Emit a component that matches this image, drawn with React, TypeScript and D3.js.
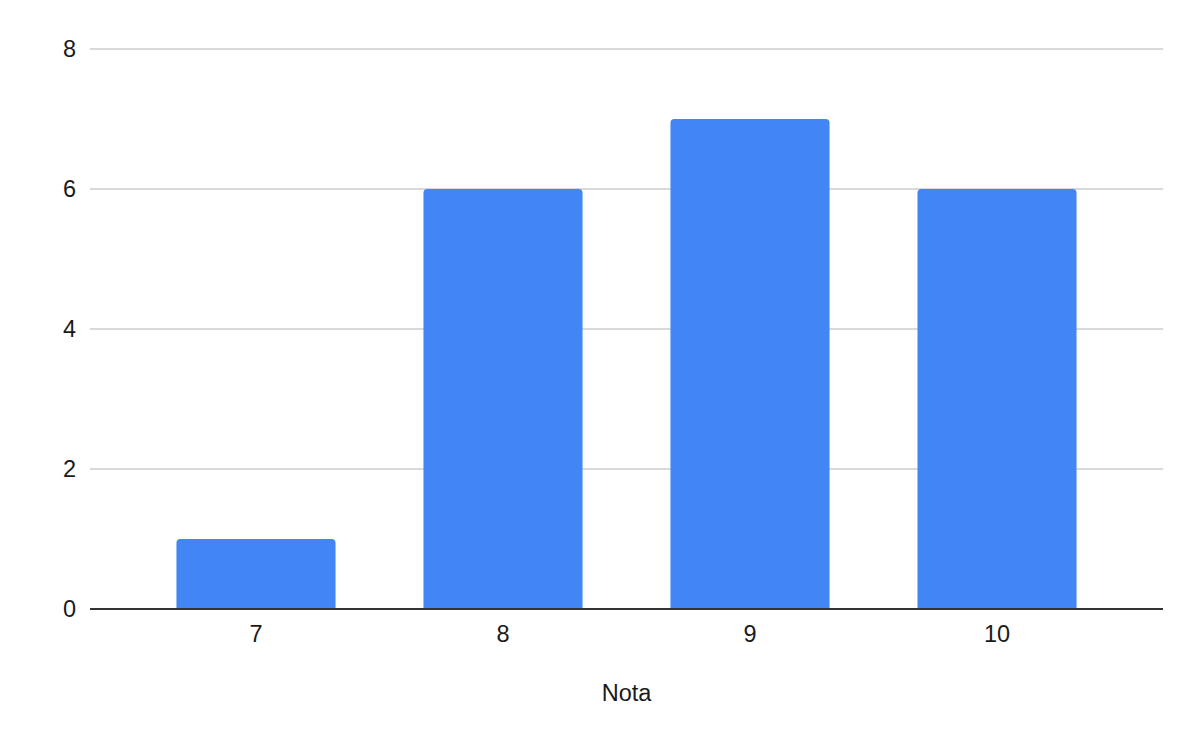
import React, { useRef, useEffect } from 'react';
import * as d3 from 'd3';

const notas = ['7', '8', '9', '10'];
const cantidad = [1, 6, 7, 6];
const yTicks = [0, 2, 4, 6, 8];
const xTitle = 'Nota';

const App = () => {
  const svgRef = useRef<SVGSVGElement>(null);

  useEffect(() => {
    const width = 1200;
    const height = 742;
    const margin = { top: 49, right: 37, bottom: 133, left: 90 };
    const innerW = width - margin.left - margin.right;
    const innerH = height - margin.top - margin.bottom;
    const font = 'Arial, "Liberation Sans", sans-serif';
    const fs = 23.5;

    const root = d3.select(svgRef.current);
    root.selectAll('*').remove();
    root.attr('width', width).attr('height', height);

    root.append('rect').attr('width', width).attr('height', height).attr('fill', '#fff');

    const svg = root.append('g').attr('transform', `translate(${margin.left},${margin.top})`);

    const x = d3.scaleBand()
      .domain(notas)
      .range([0, innerW])
      .paddingInner(0.356)
      .paddingOuter(0.35);

    const y = d3.scaleLinear().domain([0, 8]).range([innerH, 0]);

    // gridlines
    svg.selectAll('.grid')
      .data(yTicks.filter((t) => t !== 0))
      .enter()
      .append('line')
      .attr('x1', 0)
      .attr('x2', innerW)
      .attr('y1', (d) => y(d))
      .attr('y2', (d) => y(d))
      .attr('stroke', '#cccccc')
      .attr('stroke-width', 1.3);

    // y labels
    svg.selectAll('.ylab')
      .data(yTicks)
      .enter()
      .append('text')
      .attr('x', -14)
      .attr('y', (d) => y(d))
      .attr('dy', '0.35em')
      .attr('text-anchor', 'end')
      .attr('font-family', font)
      .attr('font-size', fs)
      .attr('fill', '#1a1a1a')
      .text((d) => d);

    // bars with rounded top corners
    const r = 4;
    svg.selectAll('.bar')
      .data(notas.map((n, i) => ({ n, v: cantidad[i] })))
      .enter()
      .append('path')
      .attr('fill', '#4285f4')
      .attr('d', (d) => {
        const x0 = x(d.n)!;
        const x1 = x0 + x.bandwidth();
        const yt = y(d.v);
        const yb = y(0);
        return `M${x0},${yb}V${yt + r}Q${x0},${yt} ${x0 + r},${yt}H${x1 - r}Q${x1},${yt} ${x1},${yt + r}V${yb}Z`;
      });

    // baseline
    svg.append('line')
      .attr('x1', 0)
      .attr('x2', innerW)
      .attr('y1', y(0))
      .attr('y2', y(0))
      .attr('stroke', '#333')
      .attr('stroke-width', 2);

    // x labels
    svg.selectAll('.xlab')
      .data(notas)
      .enter()
      .append('text')
      .attr('x', (d) => x(d)! + x.bandwidth() / 2)
      .attr('y', innerH + 25)
      .attr('dy', '0.35em')
      .attr('text-anchor', 'middle')
      .attr('font-family', font)
      .attr('font-size', fs)
      .attr('fill', '#1a1a1a')
      .text((d) => d);

    svg.append('text')
      .attr('x', innerW / 2)
      .attr('y', innerH + 84)
      .attr('dy', '0.35em')
      .attr('text-anchor', 'middle')
      .attr('font-family', font)
      .attr('font-size', fs)
      .attr('fill', '#1a1a1a')
      .text(xTitle);
  }, []);

  return (
    <svg ref={svgRef} style={{ position: 'absolute', left: 0, top: 0, display: 'block' }}></svg>
  );
};

export default App;
